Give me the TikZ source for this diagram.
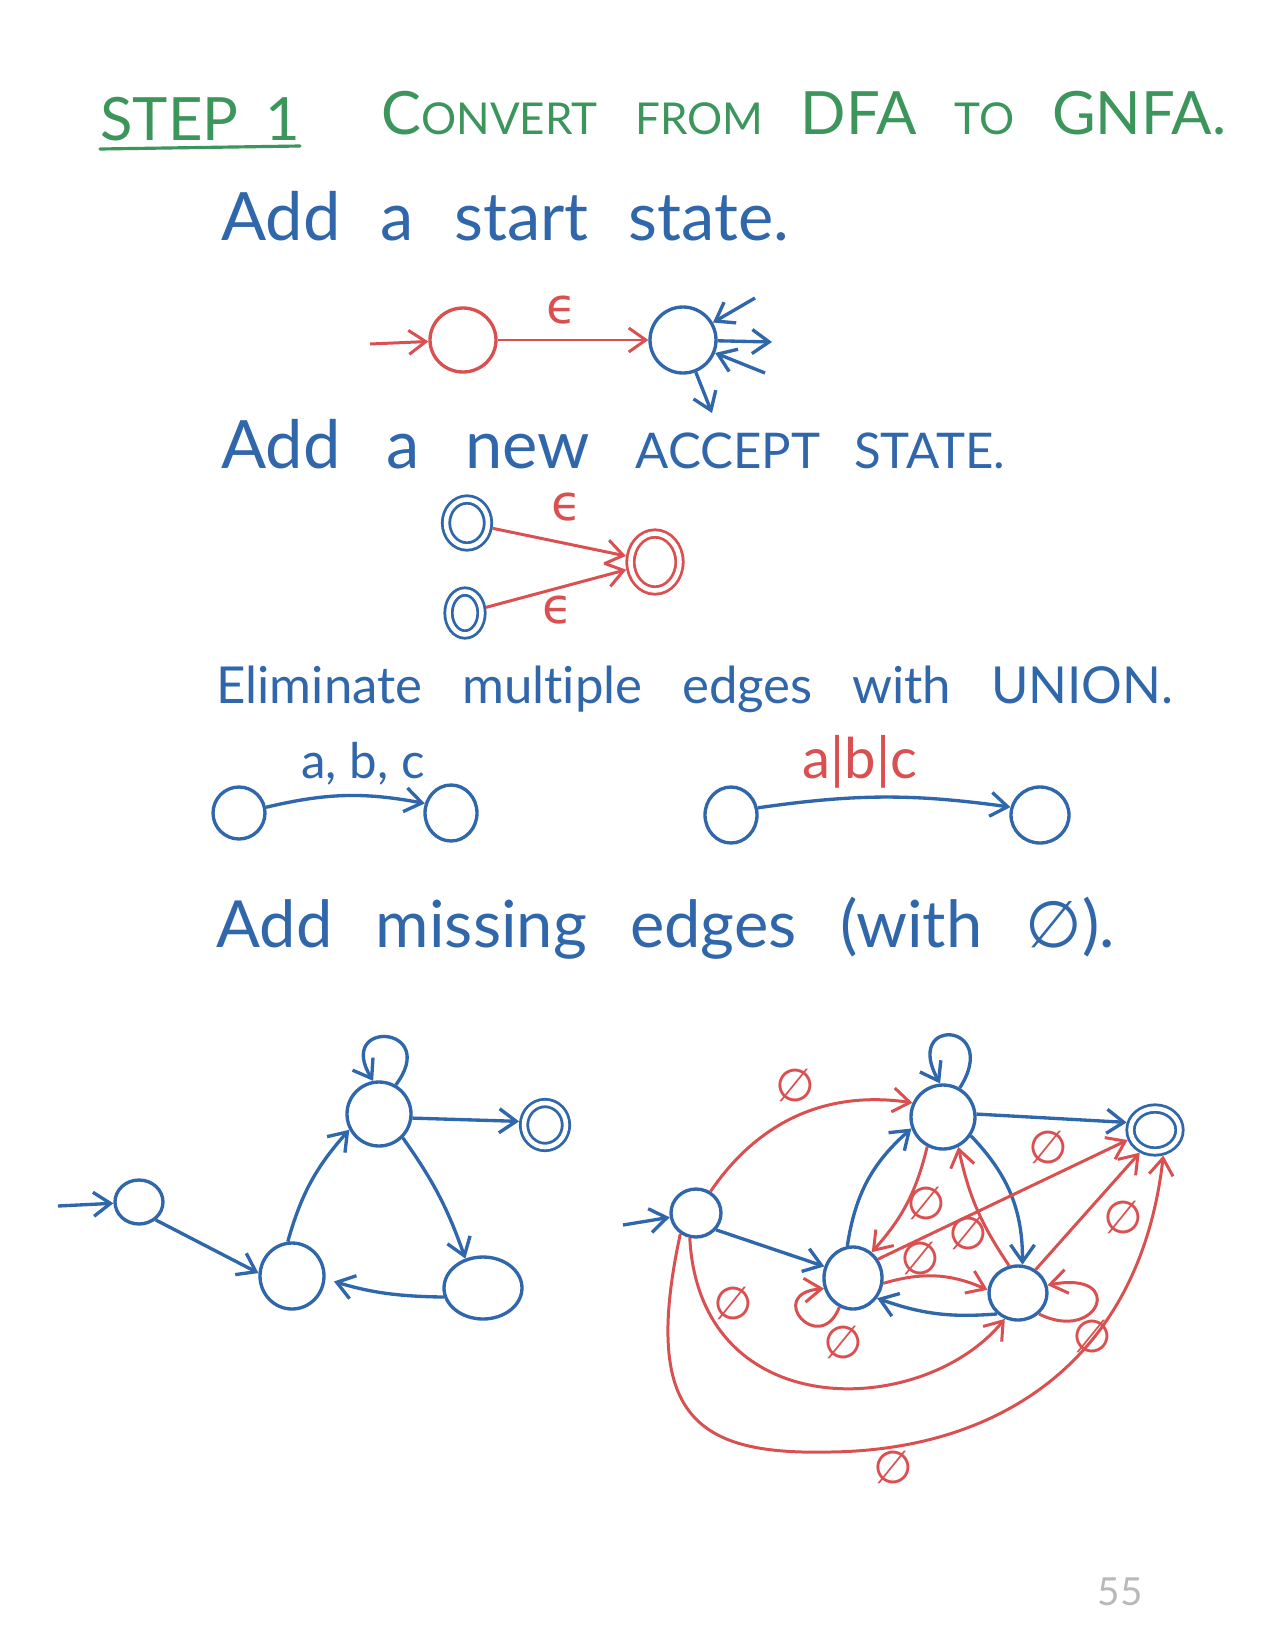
\documentclass[tikz,border=0pt]{standalone}
\usepackage{fontspec}
\setmainfont{Lato}[Ligatures=NoCommon]
\newfontfamily\symf{DejaVu Sans}
\usetikzlibrary{arrows.meta,shapes.geometric}

\definecolor{penblue}{RGB}{48,102,170}
\definecolor{penred}{RGB}{218,80,80}
\definecolor{pengreen}{RGB}{60,150,92}

\newcommand{\wline}[2]{\makebox[#1][s]{#2}}
\newcommand{\fsz}[1]{\fontsize{#1}{#1}\selectfont}
\newcommand{\capbig}{\fsz{34}}
\newcommand{\capsm}{\fsz{25}}

\tikzset{
  st/.style={draw, ellipse, inner sep=0pt, line width=1.9pt},
  bst/.style={st, penblue},
  rst/.style={st, penred},
  acc/.style={double, double distance=2.6pt, line width=1.6pt, outer sep=2.9pt},
  bedge/.style={-{Straight Barb[length=3.4mm,width=4.8mm]}, penblue, line width=1.9pt},
  redge/.style={-{Straight Barb[length=3.4mm,width=4.8mm]}, penred, line width=1.7pt},
  txt/.style={inner sep=0pt, anchor=base west, penblue},
  lbl/.style={inner sep=0pt, penred, font=\symf\fsz{26}},
  eps/.style={inner sep=0pt, penred, font=\symf\fsz{28}},
}

\begin{document}
\begin{tikzpicture}[x=0.02cm, y=-0.02cm]
\useasboundingbox[fill=white] (0,0) rectangle (1275,1650);

\node[txt, pengreen, font=\capbig] (t0) at (100,140) {\wline{4cm}{STEP 1}};
\draw[pengreen, line width=1.8pt, line cap=round] (100,149) -- (300,146);
\node[txt, pengreen, font=\capbig] (t1) at (381,134) {\wline{16.9cm}{C{\capsm ONVERT} {\capsm FROM} DFA {\capsm TO} GNFA.}};

\node[txt, font=\fsz{38}] (t2) at (221,240) {\wline{11.36cm}{Add a start state.}};
\node[txt, font=\fsz{38}] (t3) at (221,468) {\wline{15.68cm}{Add a new {\fsz{28}ACCEPT STATE.}}};
\node[txt, font=\fsz{29}] (t4) at (216,703) {\wline{19.14cm}{Eliminate multiple edges with UNION.}};
\node[txt, font=\fsz{37}] (t5) at (216,947) {\wline{17.98cm}{Add missing edges (with {\symf ∅}).}};

\coordinate (i0) at (370,344);
\node[rst, minimum width=1.32cm, minimum height=1.28cm] (s0) at (463,340) {};
\node[bst, minimum size=1.32cm] (s1) at (683,340) {};
\draw[redge] (i0) -- (s0);
\draw[redge] (s0) -- (s1);
\node[eps] (e0) at (562,310) {ϵ};
\coordinate (b1) at (755,298);
\coordinate (b2) at (772,342);
\coordinate (b3) at (765,373);
\coordinate (b4) at (712,413);
\draw[bedge] (b1) -- (s1);
\draw[bedge] (s1) -- (b2);
\draw[bedge] (b3) -- (s1);
\draw[bedge] (s1) -- (b4);

\node[bst, acc, minimum width=0.84cm, minimum height=0.94cm] (a1) at (467,523) {};
\node[bst, acc, minimum width=0.66cm, minimum height=0.86cm] (a2) at (465,613) {};
\node[rst, acc, minimum width=0.98cm, minimum height=1.14cm] (f0) at (655,562) {};
\draw[redge] (a1) -- (f0);
\draw[redge] (a2) -- (f0);
\node[eps] (e1) at (567,507) {ϵ};
\node[eps] (e2) at (558,610) {ϵ};

\node[bst, minimum width=1.04cm, minimum height=1.04cm] (u1) at (239,813) {};
\node[bst, minimum width=1.04cm, minimum height=1.12cm] (u2) at (451,813) {};
\draw[bedge] (u1.12) to[bend left=12] (u2.160);
\node[inner sep=0pt, anchor=base, penblue, font=\fsz{28}] (l1) at (363,778) {a, b, c};
\node[bst, minimum width=1.04cm, minimum height=1.12cm] (v1) at (731,815) {};
\node[bst, minimum width=1.16cm, minimum height=1.12cm] (v2) at (1040,815) {};
\draw[bedge] (v1.15) to[bend left=8] (v2.165);
\node[inner sep=0pt, anchor=base, penred, font=\fsz{32}] (l2) at (860,778) {a|b|c};

\coordinate (i1) at (58,1206);
\node[bst, minimum width=0.96cm, minimum height=0.88cm] (p0) at (139,1202) {};
\node[bst, minimum width=1.28cm, minimum height=1.32cm] (p1) at (292,1276) {};
\node[bst, minimum size=1.28cm] (p2) at (379,1114) {};
\node[bst, minimum width=1.56cm, minimum height=1.24cm] (p3) at (483,1288) {};
\node[bst, acc, minimum width=0.84cm, minimum height=0.88cm] (p4) at (545,1125) {};
\draw[bedge] (i1) -- (p0);
\draw[bedge] (p0.-47) -- (p1.175);
\draw[bedge] (p1.97) to[bend left=13] (p2.208);
\draw[bedge] (p2.-45) to[bend left=8] (p3.121);
\draw[bedge, shorten >=5pt] (p3.193) to[bend left=8] (p1.-5);
\draw[bedge] (p2.-7) -- (p4.172);
\draw[bedge] (p2.60) .. controls +(45,-60) and +(-38,-62) .. (p2.100);

\coordinate (i2) at (623,1225);
\node[bst, minimum width=1.0cm, minimum height=0.96cm] (q0) at (696,1213) {};
\node[bst, minimum size=1.28cm] (q1) at (943,1117) {};
\node[bst, minimum width=1.16cm, minimum height=1.24cm] (q2) at (853,1278) {};
\node[bst, minimum width=1.16cm, minimum height=1.08cm] (q3) at (1018,1293) {};
\node[bst, acc, minimum width=0.98cm, minimum height=0.86cm] (q4) at (1155,1130) {};
\draw[bedge] (i2) -- (q0);
\draw[bedge] (q0.-40) -- (q2.158);
\draw[bedge] (q2.100) to[bend left=20] (q1.200);
\draw[bedge] (q1.-34) to[bend left=22] (q3.81);
\draw[bedge] (q3.225) to[bend left=12] (q2.-40);
\draw[bedge] (q1.5) -- (q4.165);
\draw[bedge] (q1.60) .. controls +(42,-66) and +(-38,-68) .. (q1.95);

\coordinate (m1) at (830,1452);
\draw[redge] (q0.56) to[bend left=32] (q1.155);
\draw[redge] (q1.242) to[bend left=14] (q2.54);
\draw[redge] (q3.108) to[bend left=11] (q1.-63);
\draw[redge] (q2.37) -- (q4.200);
\draw[redge] (q2.-10) to[bend left=20] (q3.174);
\draw[redge] (q3.53) -- (q4.236);
\draw[redge] (q0.256) .. controls +(10,188) and +(-82,100) .. (q3.243);
\draw[redge] (q0.233) .. controls (640,1420) and (700,1455) .. (m1) .. controls (1000,1450) and (1140,1360) .. (q4.-72);
\draw[redge] (q2.-115) .. controls +(-20,50) and +(-60,5) .. (q2.200);
\draw[redge] (q3.-45) .. controls +(60,30) and +(80,-15) .. (q3.15);

\node[lbl] (n1) at (795,1085) {∅};
\node[lbl] (n2) at (926,1203) {∅};
\node[lbl] (n3) at (968,1233) {∅};
\node[lbl] (n4) at (920,1258) {∅};
\node[lbl] (n5) at (1048,1147) {∅};
\node[lbl] (n6) at (1123,1217) {∅};
\node[lbl] (n7) at (733,1303) {∅};
\node[lbl] (n8) at (843,1342) {∅};
\node[lbl] (n9) at (1092,1336) {∅};
\node[lbl] (n10) at (893,1467) {∅};

\node[inner sep=0pt, gray!55, font=\fsz{22}] (pg) at (1120,1592) {55};
\end{tikzpicture}
\end{document}
